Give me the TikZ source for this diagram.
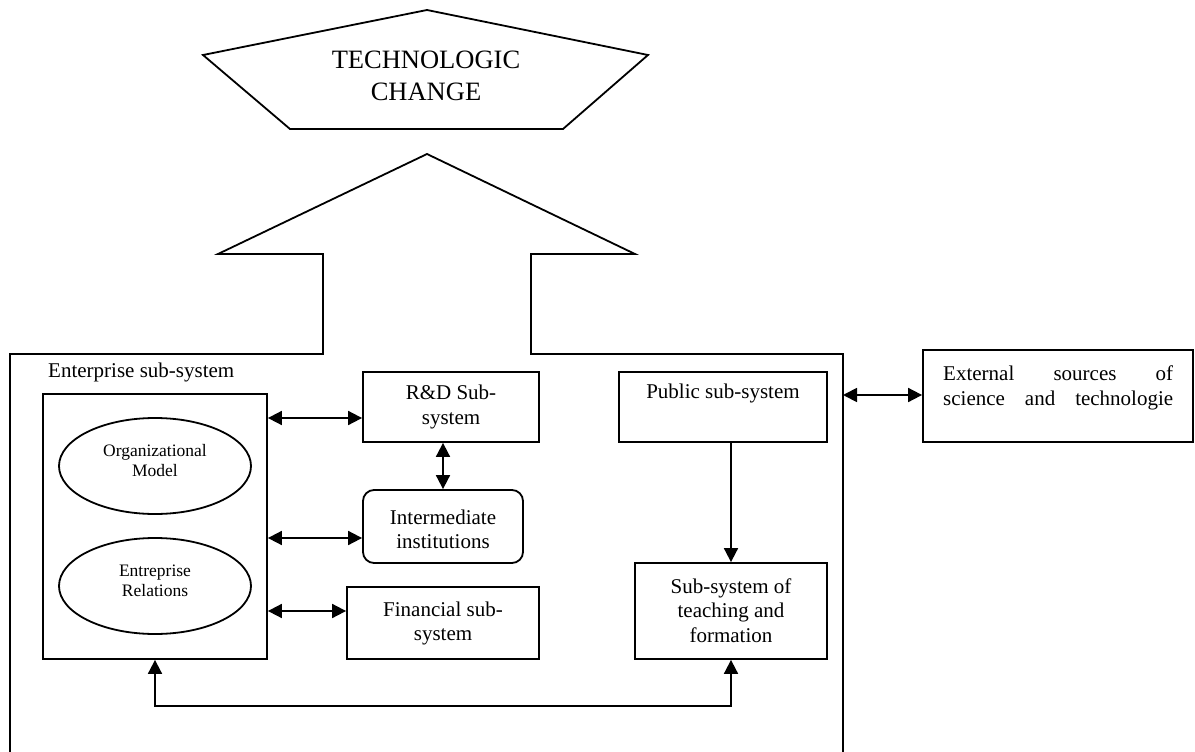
\documentclass[tikz,border=0pt]{standalone}
\usepackage{fontspec}
\setmainfont{Liberation Serif}
\usetikzlibrary{arrows.meta,shapes.geometric}
\newcommand\fsnorm{\fontsize{21}{24.5}\selectfont}
\newcommand\fsbig{\fontsize{26.5}{32}\selectfont}
\newcommand\fssmall{\fontsize{17.5}{20}\selectfont}
\tikzset{
  ln/.style={line width=1.8pt},
  box/.style={draw, ln, rectangle, inner sep=0pt},
  txt/.style={align=center, font=\fsnorm, inner sep=0pt},
  tip/.tip={Triangle[length=14pt,width=14pt]},
  dar/.style={ln, {tip}-{tip}},
  sar/.style={ln, -{tip}},
}
\begin{document}
\begin{tikzpicture}[x=1pt,y=-1pt]
\useasboundingbox (0,0) rectangle (1195,752);
% technologic change pentagon
\draw[ln] (427,10) -- (648,55) -- (563,129) -- (290,129) -- (203,55) -- cycle;
\node[align=center, font=\fsbig, inner sep=0pt] (tech) at (426,76) {TECHNOLOGIC\\CHANGE};
% big arrow merged with the enterprise sub-system frame
\draw[ln, line join=miter] (10,760) -- (10,354) -- (323,354) -- (323,254) -- (218,254) -- (427,154)
  -- (635,254) -- (531,254) -- (531,354) -- (843,354) -- (843,760);
\coordinate (mbR) at (843,395);
\node[font=\fsnorm, anchor=base west, inner sep=0pt] (entlbl) at (48,377) {Enterprise sub-system};
% inner enterprise box
\node[box, minimum width=224pt, minimum height=265pt] (entbox) at (155,526.5) {};
\node[draw, ln, ellipse, minimum width=192pt, minimum height=96pt, inner sep=0pt] (ell1) at (155,466) {};
\node[align=center, font=\fssmall, inner sep=0pt] (ell1t) at (155,461) {Organizational\\Model};
\node[draw, ln, ellipse, minimum width=192pt, minimum height=96pt, inner sep=0pt] (ell2) at (155,586) {};
\node[align=center, font=\fssmall, inner sep=0pt] (ell2t) at (155,581) {Entreprise\\Relations};
% middle column
\node[box, minimum width=176pt, minimum height=70pt] (rd) at (451,407) {};
\node[txt] (rdt) at (451,407) {R\&D Sub-\\system};
\node[box, rounded corners=11pt, minimum width=160pt, minimum height=73pt] (inter) at (443,526.5) {};
\node[txt] (intert) at (443,529.5) {Intermediate\\institutions};
\node[box, minimum width=192pt, minimum height=72pt] (fin) at (443,623) {};
\node[txt] (fint) at (443,623.5) {Financial sub-\\system};
% right column
\node[box, minimum width=208pt, minimum height=70pt] (pub) at (723,407) {};
\node[txt] (pubt) at (723,393) {Public sub-system};
\node[box, minimum width=192pt, minimum height=96pt] (teach) at (731,611) {};
\node[txt] (teacht) at (731,610.5) {Sub-system of\\teaching and\\formation};
% external sources
\node[box, minimum width=270pt, minimum height=92pt] (ext) at (1058,396) {};
\node[font=\fsnorm, inner sep=0pt, text width=230pt, align=left, anchor=north west] (extt) at (943,366)
  {External\hfill sources\hfill of\\science\hfill and\hfill technologie};
% connectors
\draw[dar] (entbox.east |- 0,418) -- (rd.west |- 0,418);
\draw[dar] (entbox.east |- 0,538) -- (inter.west |- 0,538);
\draw[dar] (entbox.east |- 0,611) -- (fin.west |- 0,611);
\draw[dar] (rd.south -| 443,0) -- (inter.north);
\draw[sar] (pub.south -| 731,0) -- (teach.north);
\draw[dar] (entbox.south) -- (155,706) -- (731,706) -- (teach.south);
\draw[dar] (mbR) -- (ext.west |- mbR);
\end{tikzpicture}
\end{document}
